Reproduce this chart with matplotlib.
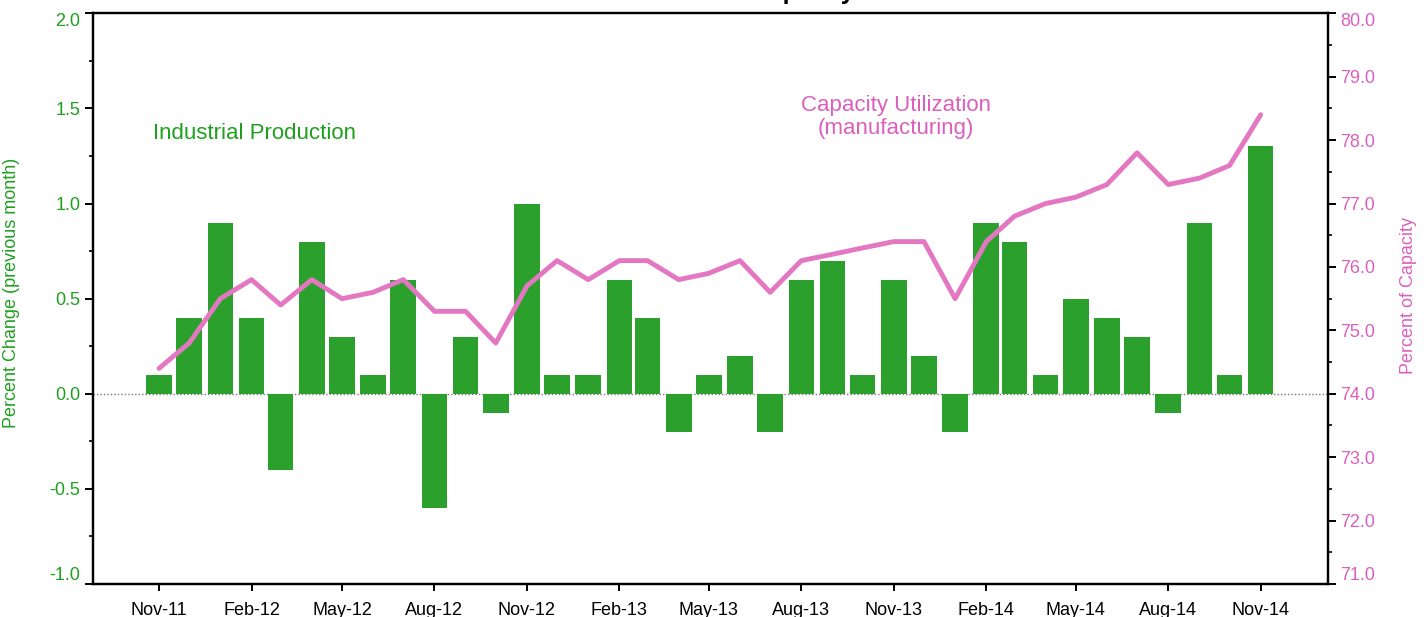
import matplotlib
matplotlib.use("Agg")
import matplotlib.pyplot as plt
import matplotlib.dates as mdates
import pandas as pd
from matplotlib.ticker import MultipleLocator, FormatStrFormatter

plt.rcParams["font.family"] = ["Liberation Sans", "DejaVu Sans"]

# monthly data, Nov-2011 .. Nov-2014
months = pd.date_range("2011-11-01", "2014-11-01", freq="MS")
ip_change = [0.1, 0.4, 0.9, 0.4, -0.4, 0.8, 0.3, 0.1, 0.6, -0.6, 0.3, -0.1,
             1.0, 0.1, 0.1, 0.6, 0.4, -0.2, 0.1, 0.2, -0.2, 0.6, 0.7, 0.1,
             0.6, 0.2, -0.2, 0.9, 0.8, 0.1, 0.5, 0.4, 0.3, -0.1, 0.9, 0.1,
             1.3]
cap_util = [74.4, 74.8, 75.5, 75.8, 75.4, 75.8, 75.5, 75.6, 75.8, 75.3, 75.3, 74.8,
            75.7, 76.1, 75.8, 76.1, 76.1, 75.8, 75.9, 76.1, 75.6, 76.1, 76.2, 76.3,
            76.4, 76.4, 75.5, 76.4, 76.8, 77.0, 77.1, 77.3, 77.8, 77.3, 77.4, 77.6,
            78.4]

GREEN = "#2ca02c"
GREEN_TXT = "#1ea01e"
PINK = "#e377c2"
PINK_TXT = "#dc5fbe"

fig = plt.figure(figsize=(14.24, 6.17), dpi=100)
ax = fig.add_axes([0.0651, 0.0535, 0.8675, 0.9249])
ax2 = ax.twinx()

ax.axhline(0, color="#777777", linestyle=(0, (1, 1.5)), linewidth=1.0, zorder=1)
ax.bar(months, ip_change, width=25.5, color=GREEN, zorder=2)
ax2.plot(months, cap_util, color=PINK, linewidth=3.5,
         solid_capstyle="round", solid_joinstyle="round", zorder=3)

ax.set_xlim(pd.Timestamp("2011-08-27"), pd.Timestamp("2015-01-07"))
ax.set_ylim(-1.0, 2.0)
ax2.set_ylim(71.0, 80.0)

ax.xaxis.set_major_locator(mdates.MonthLocator(bymonth=[2, 5, 8, 11]))
ax.xaxis.set_major_formatter(mdates.DateFormatter("%b-%y"))
ax.yaxis.set_major_locator(MultipleLocator(0.5))
ax.yaxis.set_minor_locator(MultipleLocator(0.25))
ax.yaxis.set_major_formatter(FormatStrFormatter("%.1f"))
ax2.yaxis.set_major_locator(MultipleLocator(1.0))
ax2.yaxis.set_minor_locator(MultipleLocator(0.5))
ax2.yaxis.set_major_formatter(FormatStrFormatter("%.1f"))

for a in (ax, ax2):
    for s in a.spines.values():
        s.set_linewidth(1.6)
ax.tick_params(axis="x", direction="out", length=5, width=1.4, labelsize=13, pad=8)
ax.tick_params(axis="y", which="major", direction="out", length=6, width=1.4,
               labelsize=13, labelcolor=GREEN_TXT, pad=3)
ax.tick_params(axis="y", which="minor", direction="out", length=3, width=1.2)
ax2.tick_params(axis="y", which="major", direction="out", length=6, width=1.4,
                labelsize=13, labelcolor=PINK_TXT, pad=3)
ax2.tick_params(axis="y", which="minor", direction="out", length=3, width=1.2)

# end labels sit inside the axis range, as in the original
fig.canvas.draw()
for a in (ax, ax2):
    lo, hi = a.get_ylim()
    for tick in a.yaxis.get_major_ticks():
        loc = tick.get_loc()
        for lab in (tick.label1, tick.label2):
            if abs(loc - lo) < 1e-9:
                lab.set_va("bottom")
            elif abs(loc - hi) < 1e-9:
                lab.set_va("top")

ax.set_ylabel("Percent Change (previous month)", color=GREEN_TXT, fontsize=13)
ax.yaxis.set_label_coords(-0.0589, 0.511)
ax2.set_ylabel("Percent of Capacity", color=PINK_TXT, fontsize=13)
ax2.yaxis.set_label_coords(1.0583, 0.506)

ax.text(0.0488, 0.790, "Industrial Production", transform=ax.transAxes,
        color=GREEN_TXT, fontsize=16, ha="left", va="center")
ax.text(0.650, 0.818, "Capacity Utilization\n(manufacturing)", transform=ax.transAxes,
        color=PINK_TXT, fontsize=16, ha="center", va="center", linespacing=1.1)

# title sits above the visible area; only its descenders show at the top edge
fig.text(0.0651 + 0.8675 / 2, 1 + 1.0 / 617, "Industrial Production and Capacity Utilization",
         ha="center", va="baseline", fontsize=18, fontweight="bold")

fig.savefig("out.png", dpi=100)
